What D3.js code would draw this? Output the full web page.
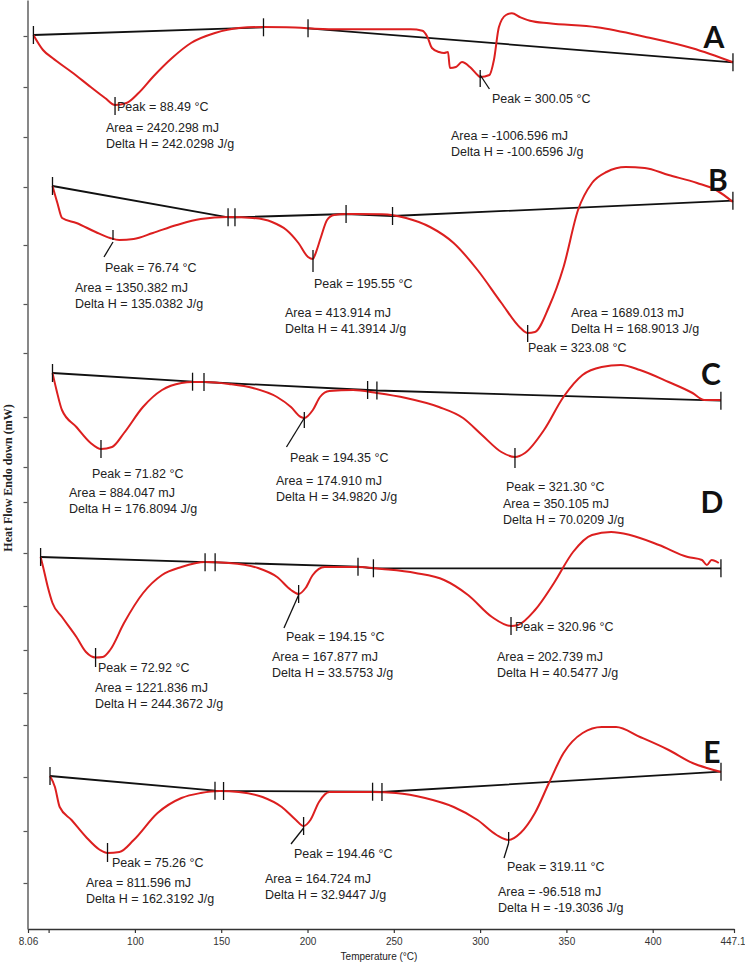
<!DOCTYPE html>
<html><head><meta charset="utf-8">
<script src="https://cdnjs.cloudflare.com/ajax/libs/d3/7.8.5/d3.min.js"></script>
<style>body{margin:0;background:#fff}svg{display:block}</style>
</head><body><svg id="c" width="745" height="964"></svg>
<script>
// ---------- DATA ----------
const panelNames = ["A","B","C","D","E"];
const xTickValues = [38.06,50,100,150,200,250,300,350,400,447.1];
const xTickLabels = ["8.06","","100","150","200","250","300","350","400","447.1"];
const yTickValues = [89.3,84.2,79.2,74.2,68.4,62.5,57.6,51.2,46.2,42.7,37.6,32.3,27.9,23.6,20.4,15.2,9.8,4.6];
const panelOffsets = [89.4,74.3,55.6,37.2,15.3];

const curveA_T = [41.2,46.75,52.26,63.3,74.4,82.7,88.49,95.1,102.1,110.4,121.5,132.5,146.4,160.2,174.0,187.8,215.3,259.8,266.6,269.4,272.1,276.2,279.1,281.4,282.5,286.0,289.5,294.1,298.5,300.05,305.4,308.0,310.9,315.0,318.4,323.4,328.9,339.9,367.7,395.3,423.0,446.5];
const curveA_HF = [0,-1.5,-2.3,-3.7,-5.2,-6.3,-7.0,-6.8,-5.8,-4.2,-2.3,-0.8,0.2,0.7,0.8,0.77,0.57,0.57,0.43,-0.17,-1.3,-1.7,-1.8,-1.7,-3.3,-3.2,-2.7,-3.2,-4.0,-4.2,-4.0,-2.5,0.8,2.0,2.17,1.77,1.43,1.17,0.77,-0.17,-1.33,-2.73];
const curveB_T = [40.8,43.7,46.5,55.0,66.4,75.0,80.5,89.0,100.4,114.6,128.8,145.2,159.9,171.2,179.8,186.9,192.6,195.55,196.7,200.3,203.9,208.0,215.2,236.5,250.8,265.1,279.1,293.3,307.5,318.8,323.08,327.4,335.7,344.4,353.0,361.3,369.9,381.3,392.6,406.8,423.7,435.0,445.0];
const curveB_HF = [0,-1.7,-3.2,-3.7,-4.6,-5.2,-5.4,-5.3,-4.7,-3.9,-3.3,-3.1,-3.2,-3.6,-4.4,-5.7,-7.1,-7.3,-6.9,-5.1,-3.4,-2.9,-2.8,-2.83,-3.2,-4.1,-5.7,-8.4,-11.7,-14.2,-14.7,-14.6,-12.1,-8.1,-2.4,0.3,1.4,1.9,1.8,1.1,0.3,-0.4,-1.6];
const curveC_T = [42.6,45.0,48.3,57.0,65.6,71.82,78.5,85.7,97.1,108.6,120.3,127.0,134.5,149.0,163.4,177.9,186.3,192.3,194.35,199.5,203.8,209.5,223.7,238.1,255.6,275.5,290.0,301.4,313.1,321.3,327.3,338.8,350.5,362.0,373.5,385.1,396.6,413.9,428.3,435.4,445.4];
const curveC_HF = [0,-1.7,-3.7,-5.4,-7.0,-7.6,-7.4,-6.0,-3.4,-1.7,-1.0,-0.9,-0.9,-1.1,-1.5,-2.4,-3.4,-4.4,-4.5,-3.7,-2.4,-1.8,-1.7,-2.0,-2.5,-3.4,-4.5,-6.2,-7.9,-8.4,-8.0,-5.7,-2.4,-0.2,0.6,0.8,0.3,-0.9,-2.0,-2.7,-2.7];
const curveD_T = [40.1,41.6,44.4,47.2,52.9,61.5,67.2,72.92,77.2,81.6,89.9,101.3,112.6,124.2,138.3,152.6,169.9,181.3,189.6,194.15,198.3,202.6,209.7,229.6,243.9,263.9,281.0,295.3,309.6,320.96,325.1,335.3,346.6,358.0,369.3,380.7,392.0,409.3,426.5,435.0,437.9,440.7,445.0];
const curveD_HF = [0,-1.0,-3.0,-4.6,-6.0,-8.0,-9.5,-10.05,-10.0,-9.3,-6.6,-3.6,-1.8,-1.0,-0.5,-0.6,-1.1,-2.0,-3.3,-3.7,-3.1,-1.8,-1.0,-1.0,-1.2,-1.6,-2.3,-3.8,-6.0,-6.9,-6.8,-5.3,-2.6,0.5,2.2,2.5,2.2,1.2,0.0,-0.3,-0.8,-0.3,-0.6];
const curveE_T = [40.3,43.3,46.2,53.4,62.2,70.7,75.26,82.5,91.2,105.7,120.2,131.9,143.5,155.1,169.5,181.2,189.8,194.46,198.6,203.8,210.2,236.3,250.6,268.3,285.7,300.2,311.8,319.11,326.3,335.1,343.6,352.5,364.1,375.7,384.4,399.0,416.4,430.9,439.6,448.2];
const curveE_HF = [0,-1.1,-3.1,-4.4,-6.1,-7.4,-7.7,-7.6,-6.4,-3.7,-2.2,-1.7,-1.5,-1.6,-2.1,-3.1,-4.4,-5.0,-4.4,-2.6,-1.6,-1.6,-1.7,-2.2,-3.1,-4.4,-5.9,-6.4,-5.7,-3.7,-0.7,2.3,4.3,4.9,4.9,3.9,2.6,1.3,0.8,0.4];

// baselines (null = gap)
const baseA_T = [41.2,174.5,null,200.3,446.5];   const baseA_HF = [0,0.77,null,0.67,-2.73];
const baseB_T = [40.8,145.1,149.2,215.2,242.8,445.0]; const baseB_HF = [0,-3.13,-3.13,-2.8,-3.0,-1.47];
const baseC_T = [42.6,127.0,133.9,232.5,238.1,445.4]; const baseC_HF = [0,-0.87,-0.9,-1.7,-1.75,-2.77];
const baseD_T = [40.1,138.3,144.3,229.6,238.8,446.3]; const baseD_HF = [0,-0.52,-0.53,-0.97,-1.13,-1.13];
const baseE_T = [40.3,140.6,145.8,236.4,242.1,448.2]; const baseE_HF = [0,-1.47,-1.5,-1.57,-1.6,0.43];

// peak results
const peaksA = [88.49,300.05];        const areasA = [2420.298,-1006.596];       const dhA = [242.0298,-100.6596];
const peaksB = [76.74,195.55,323.08]; const areasB = [1350.382,413.914,1689.013]; const dhB = [135.0382,41.3914,168.9013];
const peaksC = [71.82,194.35,321.30]; const areasC = [884.047,174.910,350.105];   const dhC = [176.8094,34.9820,70.0209];
const peaksD = [72.92,194.15,320.96]; const areasD = [1221.836,167.877,202.739];  const dhD = [244.3672,33.5753,40.5477];
const peaksE = [75.26,194.46,319.11]; const areasE = [811.596,164.724,-96.518];   const dhE = [162.3192,32.9447,-19.3036];

// peak marker extents (heat flow top/bottom) and leader lines [T1,HF1,T2,HF2]
const peakTickA = [[-6.2,-8.0],[-3.5,-5.2]];          const leadA = [[300.05,-4.0,305.4,-5.4]];
const peakTickB = [[-4.4,-5.4],[-6.4,-8.6],[-13.9,-15.6]]; const leadB = [[76.74,-5.6,71.4,-7.1]];
const peakTickC = [[-6.7,-8.5],[-3.9,-5.5],[-7.5,-9.5]];  const leadC = [[194.35,-4.5,183.6,-7.4]];
const peakTickD = [[-9.1,-11.0],[-2.8,-4.6],[-6.0,-7.8]]; const leadD = [[194.15,-3.8,185.4,-7.1]];
const peakTickE = [[-6.7,-8.6],[-4.1,-5.9],[-5.6,-6.7]];  const leadE = [[194.46,-5.2,186.8,-6.8],[319.11,-6.7,316.3,-8.2]];

// ---------- LAYOUT ----------
const panelDomains = [[38.06,447.1],[40.8,445.0],[42.6,445.4],[40.1,446.3],[40.3,448.2]];
const panelRanges  = [[28,734],[52.5,732.9],[52.5,720.9],[40.6,720.95],[50,721]];
const letterPos = [[714,48],[718,191],[711,385],[712,513],[712,763]];
const textPos = [
  [[117,111,106,132],[492,103,451,140]],
  [[105,272,75,292],[314,288,285,317],[528,352,571,317]],
  [[92,478,69,497],[290,462,276,485],[506,491,503,508]],
  [[98,672,95,692],[286,641,272,661],[515,631,497,661]],
  [[112,867,86,887],[294,858,265,883],[507,871,498,896]]
];

const panels = [
  {cT:curveA_T,cH:curveA_HF,bT:baseA_T,bH:baseA_HF,pk:peaksA,ar:areasA,dh:dhA,tk:peakTickA,ld:leadA},
  {cT:curveB_T,cH:curveB_HF,bT:baseB_T,bH:baseB_HF,pk:peaksB,ar:areasB,dh:dhB,tk:peakTickB,ld:leadB},
  {cT:curveC_T,cH:curveC_HF,bT:baseC_T,bH:baseC_HF,pk:peaksC,ar:areasC,dh:dhC,tk:peakTickC,ld:leadC},
  {cT:curveD_T,cH:curveD_HF,bT:baseD_T,bH:baseD_HF,pk:peaksD,ar:areasD,dh:dhD,tk:peakTickD,ld:leadD},
  {cT:curveE_T,cH:curveE_HF,bT:baseE_T,bH:baseE_HF,pk:peaksE,ar:areasE,dh:dhE,tk:peakTickE,ld:leadE}
];

// ---------- DRAW ----------
const svg = d3.select("#c");
const x = d3.scaleLinear().domain([38.06,447.1]).range([28,734]);
const y = d3.scaleLinear().domain([0,92.9]).range([929,0]);
const RED = "#dc1f1f", INK = "#111";
const TXT = "'Liberation Sans', Arial, sans-serif";

// axes
const xAxis = d3.axisBottom(x).tickValues(xTickValues).tickSize(4).tickSizeOuter(0)
  .tickFormat((d,i)=>xTickLabels[i]);
const gx = svg.append("g").attr("transform","translate(0,929)").call(xAxis);
gx.select(".domain").attr("stroke","#333").attr("stroke-width",1.3);
gx.selectAll(".tick line").attr("stroke","#333").attr("stroke-width",1.2);
gx.selectAll(".tick text").attr("font-family",TXT).attr("font-size",10).attr("fill","#333").attr("dy","0.9em");
gx.selectAll(".tick text").filter((d,i)=>i===xTickValues.length-1).attr("text-anchor","end").attr("x",11);

const yAxis = d3.axisLeft(y).tickValues(yTickValues).tickSize(4).tickSizeOuter(0).tickFormat("");
const gy = svg.append("g").attr("transform","translate(27.5,0)").call(yAxis);
gy.select(".domain").attr("stroke","#555").attr("stroke-width",1.4);
gy.selectAll(".tick line").attr("stroke","#555").attr("stroke-width",1.2);

svg.append("text").attr("x",379).attr("y",960).attr("text-anchor","middle")
  .attr("font-family",TXT).attr("font-size",10).attr("fill","#222").text("Temperature (°C)");
svg.append("text").attr("transform","translate(12,478) rotate(-90)").attr("text-anchor","middle")
  .attr("font-family","'Liberation Serif','Times New Roman',serif").attr("font-weight","bold")
  .attr("font-size",12).attr("fill","#222").text("Heat Flow Endo down (mW)");

const fmt = (v,n)=>v.toFixed(n);

panels.forEach((p,i)=>{
  const px = d3.scaleLinear().domain(panelDomains[i]).range(panelRanges[i]);
  const py = h => y(panelOffsets[i]+h);
  const g = svg.append("g");

  // baseline
  const bpts = p.bT.map((t,k)=>[t,p.bH[k]]);
  g.append("path").attr("d", d3.line().defined(d=>d[0]!=null).x(d=>px(d[0])).y(d=>py(d[1]))(bpts))
    .attr("fill","none").attr("stroke",INK).attr("stroke-width",1.8);

  // red curve
  const cpts = p.cT.map((t,k)=>[t,p.cH[k]]);
  g.append("path").attr("d", d3.line().curve(d3.curveMonotoneX).x(d=>px(d[0])).y(d=>py(d[1]))(cpts))
    .attr("fill","none").attr("stroke",RED).attr("stroke-width",2).attr("stroke-linejoin","round");

  // integration limit markers on baseline
  const valid = bpts.filter(d=>d[0]!=null);
  const bInterp = d3.scaleLinear().domain(valid.map(d=>d[0])).range(valid.map(d=>d[1]));
  valid.forEach(d=>{
    const yy = py(bInterp(d[0]));
    g.append("line").attr("x1",px(d[0])).attr("x2",px(d[0])).attr("y1",yy-9).attr("y2",yy+9)
      .attr("stroke",INK).attr("stroke-width",1.3);
  });

  // peak markers
  p.pk.forEach((t,k)=>{
    g.append("line").attr("x1",px(t)).attr("x2",px(t)).attr("y1",py(p.tk[k][0])).attr("y2",py(p.tk[k][1]))
      .attr("stroke",INK).attr("stroke-width",1.3);
  });
  p.ld.forEach(l=>{
    g.append("line").attr("x1",px(l[0])).attr("y1",py(l[1])).attr("x2",px(l[2])).attr("y2",py(l[3]))
      .attr("stroke",INK).attr("stroke-width",1.3);
  });

  // texts
  p.pk.forEach((t,k)=>{
    const tp = textPos[i][k];
    g.append("text").attr("x",tp[0]).attr("y",tp[1]).attr("font-family",TXT).attr("font-size",12.5).attr("fill","#222")
      .text("Peak = " + fmt(t,2) + " °C");
    g.append("text").attr("x",tp[2]).attr("y",tp[3]).attr("font-family",TXT).attr("font-size",12.5).attr("fill","#222")
      .text("Area = " + fmt(p.ar[k],3) + " mJ");
    g.append("text").attr("x",tp[2]).attr("y",tp[3]+16).attr("font-family",TXT).attr("font-size",12.5).attr("fill","#222")
      .text("Delta H = " + fmt(p.dh[k],4) + " J/g");
  });

  g.append("text").attr("x",letterPos[i][0]).attr("y",letterPos[i][1]).attr("text-anchor","middle")
    .attr("font-family","Lato, 'Open Sans', sans-serif").attr("font-weight","bold").attr("font-size",30)
    .attr("fill","#111").text(panelNames[i]);
});
</script></body></html>
